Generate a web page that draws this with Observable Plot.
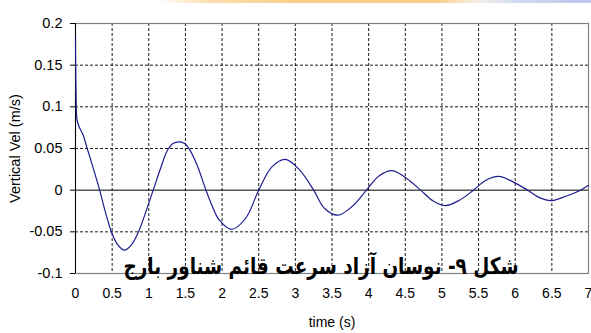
<!DOCTYPE html>
<html>
<head>
<meta charset="utf-8">
<script src="https://cdn.jsdelivr.net/npm/d3@7"></script>
<script src="https://cdn.jsdelivr.net/npm/@observablehq/plot@0.6"></script>
<style>
  html, body { margin: 0; padding: 0; background: white; }
  #wrap { position: relative; width: 591px; height: 333px; }
  #strip { position: absolute; left: 0; top: 0; width: 591px; height: 3px;
    background: linear-gradient(to right, #ffffff 0%, #ffffff 27%, #fbe0b0 35%, #f8cf8a 50%, #f8cf8a 74%, #f4f0ea 81%, #cdd8f0 88%, #b9c8ea 100%); }
</style>
</head>
<body>
<div id="wrap"><div id="strip"></div></div>
<script>
// time (s)
const time = [0, 0.008, 0.02, 0.045, 0.1, 0.16, 0.25, 0.33, 0.41, 0.49, 0.58, 0.67, 0.76, 0.86, 0.96,
  1.06, 1.16, 1.25, 1.33, 1.42, 1.49, 1.555, 1.66, 1.78, 1.87, 1.955, 2.13, 2.32, 2.50, 2.68, 2.865, 3.06, 3.25,
  3.40, 3.58, 3.77, 3.97, 4.14, 4.32, 4.52, 4.71, 4.88, 5.05, 5.24, 5.43, 5.6, 5.775, 5.97,
  6.17, 6.33, 6.50, 6.70, 6.89, 7.0];
// vertical velocity (m/s)
const vel = [0.182, 0.115, 0.085, 0.077, 0.067, 0.05, 0.024, 0, -0.027, -0.05, -0.066, -0.072, -0.066, -0.05, -0.026,
  0, 0.026, 0.047, 0.056, 0.058, 0.056, 0.049, 0.03, 0, -0.02, -0.035, -0.047, -0.034, 0, 0.028, 0.037, 0.024, 0,
  -0.022, -0.030, -0.02, 0, 0.017, 0.0235, 0.014, 0, -0.013, -0.0185, -0.012, 0, 0.012, 0.0165, 0.01,
  0, -0.009, -0.0125, -0.007, 0, 0.0058];

const xTicks = [0, 0.5, 1, 1.5, 2, 2.5, 3, 3.5, 4, 4.5, 5, 5.5, 6, 6.5, 7];
const yTicks = [-0.1, -0.05, 0, 0.05, 0.1, 0.15, 0.2];
const xGrid = [0.5, 1, 1.5, 2, 2.5, 3, 3.5, 4, 4.5, 5, 5.5, 6, 6.5];
const yGrid = [-0.05, 0.05, 0.1, 0.15];
const xTitle = "time (s)";
const yTitle = "Vertical Vel (m/s)";
const caption = "شکل ۹- نوسان آزاد سرعت قائم شناور بارج";

const data = time.map((t, i) => ({t, v: vel[i]}));
const fmt = d => String(+d.toFixed(2));

const chart = Plot.plot({
  width: 591,
  height: 333,
  marginLeft: 75,
  marginRight: 3,
  marginTop: 23,
  marginBottom: 60,
  style: {fontFamily: "Arial, 'Liberation Sans', sans-serif", fontSize: "14px", background: "white", color: "black"},
  x: {domain: [0, 7]},
  y: {domain: [-0.1, 0.2]},
  marks: [
    Plot.gridX(xGrid, {stroke: "black", strokeOpacity: 0.9, strokeDasharray: "3,2"}),
    Plot.gridY(yGrid, {stroke: "black", strokeOpacity: 0.9, strokeDasharray: "3,2"}),
    Plot.frame({stroke: "#808080", strokeWidth: 1.2}),
    Plot.ruleY([0], {stroke: "black"}),
    Plot.ruleX([0], {stroke: "black"}),
    Plot.axisY(yTicks, {tickSize: 5, tickPadding: 8, tickFormat: fmt,
      label: yTitle, labelAnchor: "center", labelArrow: "none", labelOffset: 66, fontSize: 14.5}),
    Plot.axisX(xTicks, {tickSize: 0, tickPadding: 15, tickFormat: fmt,
      label: xTitle, labelAnchor: "center", labelArrow: "none", labelOffset: 53, fontSize: 14}),
    Plot.line(data, {x: "t", y: "v", stroke: "#1c1c8e", strokeWidth: 1.2, curve: "catmull-rom"}),
    Plot.text([caption], {frameAnchor: "bottom", lineAnchor: "bottom", dx: -11, dy: 0,
      fontFamily: "'DejaVu Sans', sans-serif", fontWeight: "bold", fontSize: 23, fill: "black",
      className: "caption"})
  ]
});
d3.select(chart).selectAll(".caption text")
  .attr("textLength", 395)
  .attr("lengthAdjust", "spacingAndGlyphs");
document.getElementById("wrap").appendChild(chart);
</script>
</body>
</html>
